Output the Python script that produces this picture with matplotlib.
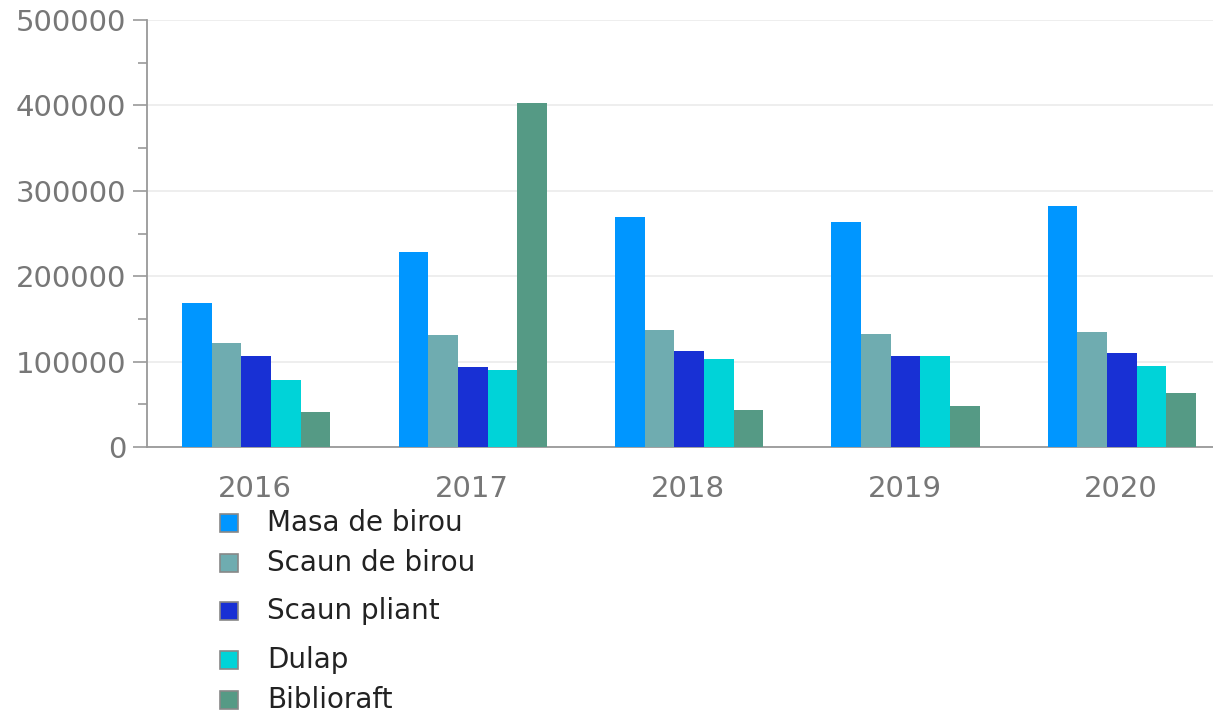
import matplotlib
matplotlib.use("Agg")
import matplotlib.pyplot as plt
from matplotlib.patches import Rectangle
from matplotlib.ticker import MultipleLocator
import numpy as np

# date
years = ["2016", "2017", "2018", "2019", "2020"]
series = ["Masa de birou", "Scaun de birou", "Scaun pliant", "Dulap", "Biblioraft"]
masa_de_birou = [169000, 228000, 269000, 263800, 282400]
scaun_de_birou = [122000, 131000, 137500, 132000, 135200]
scaun_pliant = [106300, 93800, 112500, 106800, 110000]
dulap = [78200, 90700, 103000, 106800, 94400]
biblioraft = [40400, 403000, 43800, 47600, 62800]
values = [masa_de_birou, scaun_de_birou, scaun_pliant, dulap, biblioraft]
colors = ["#0096ff", "#6facb0", "#1830d4", "#00d3d8", "#559a85"]

W, H = 1213, 715
fig = plt.figure(figsize=(W / 100, H / 100), dpi=100)
# zona graficului trece putin de marginea din dreapta, ca in original
ax = fig.add_axes([147 / W, 1 - 447 / H, 1082 / W, (447 - 20) / H])

x = np.arange(len(years))
bw = 0.137
for i, (vals, col) in enumerate(zip(values, colors)):
    ax.bar(x + (i - 2) * bw + 0.005, vals, width=bw, color=col, zorder=3)

ax.set_xlim(-0.5, len(years) - 0.5)
ax.set_ylim(0, 500000)
ax.yaxis.set_major_locator(MultipleLocator(100000))
ax.yaxis.set_minor_locator(MultipleLocator(50000))
ax.yaxis.set_major_formatter(matplotlib.ticker.FuncFormatter(lambda v, p: f"{int(v)}"))
ax.set_xticks(x)
ax.set_xticklabels(years)

ax.grid(axis="y", which="major", color="#ebebeb", linewidth=1.2, zorder=0)
for s in ["top", "right"]:
    ax.spines[s].set_visible(False)
for s in ["left", "bottom"]:
    ax.spines[s].set_color("#999999")
    ax.spines[s].set_linewidth(1.3)

ax.tick_params(axis="y", which="major", length=10, width=1.2, color="#999999",
               labelsize=21, labelcolor="#777777", pad=5)
ax.tick_params(axis="y", which="minor", length=6.5, width=1.2, color="#999999")
ax.tick_params(axis="x", length=0, labelsize=21, labelcolor="#777777", pad=20)

# legenda, asezata sub grafic
legend_y = [523, 563, 611, 660, 700]
for name, col, yy in zip(series, colors, legend_y):
    fig.patches.append(Rectangle((220 / W, 1 - (yy + 9) / H), 18 / W, 18 / H,
                                 transform=fig.transFigure, facecolor=col,
                                 edgecolor="#888888", linewidth=1.2))
    fig.text(267 / W, 1 - yy / H, name, fontsize=20, color="#222222",
             va="center", ha="left")

fig.savefig("out.png", dpi=100)
